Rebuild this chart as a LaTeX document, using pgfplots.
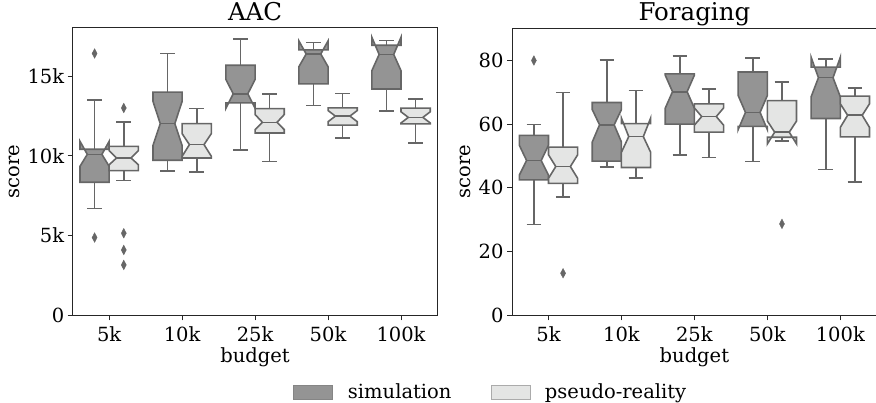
\documentclass[border=0pt]{standalone}
\usepackage{pgfplots}
\pgfplotsset{compat=1.18}
\usepgfplotslibrary{statistics}
\usepackage{fontspec}
\setmainfont{DejaVu Serif}
\definecolor{simfill}{HTML}{949494}
\definecolor{psfill}{HTML}{E4E5E4}
\definecolor{edge}{HTML}{666666}
\definecolor{axc}{HTML}{262626}
\newcommand{\tfont}{\fontsize{19.5bp}{23bp}\selectfont}
\newcommand{\ttl}{\fontsize{24.5bp}{28bp}\selectfont}
\pgfplotsset{
  boxplot/draw direction=y,
  boxplot/box extend=0.4,
  boxplot/whisker extend=0.2,
  boxplot/every whisker/.style={line width=1.6bp},
  boxplot/every median/.style={line width=1.6bp},
  boxplot/draw/median/.code={%
    \draw[/pgfplots/boxplot/every median/.try]
      (boxplot box cs:\pgfplotsboxplotvalue{median},0.25) --
      (boxplot box cs:\pgfplotsboxplotvalue{median},0.75);},
  notchbox/.style n args={2}{%
    boxplot/draw/box/.code={%
      \draw[/pgfplots/boxplot/every box/.try]
        (boxplot box cs:\pgfplotsboxplotvalue{lower quartile},0)
        -- (boxplot box cs:#1,0)
        -- (boxplot box cs:\pgfplotsboxplotvalue{median},0.25)
        -- (boxplot box cs:#2,0)
        -- (boxplot box cs:\pgfplotsboxplotvalue{upper quartile},0)
        -- (boxplot box cs:\pgfplotsboxplotvalue{upper quartile},1)
        -- (boxplot box cs:#2,1)
        -- (boxplot box cs:\pgfplotsboxplotvalue{median},0.75)
        -- (boxplot box cs:#1,1)
        -- (boxplot box cs:\pgfplotsboxplotvalue{lower quartile},1)
        -- cycle;}},
  bp/.style n args={8}{boxplot prepared={draw position=#1,
      lower whisker=#2, lower quartile=#3, median=#5,
      upper quartile=#7, upper whisker=#8}, notchbox={#4}{#6}},
  common/.style={forget plot, draw=edge, line width=1.6bp, line join=miter,
      mark=diamond*, mark size=4.8bp,
      mark options={fill=edge, draw=edge, xscale=0.7, line width=0.4bp}},
  sim/.style={common, boxplot/every box/.style={fill=simfill, line width=1.6bp}},
  ps/.style={common, boxplot/every box/.style={fill=psfill, line width=1.6bp}},
  panel/.style={
    scale only axis, width=364.8bp, height=287.3bp, anchor=south west,
    xmin=-0.5, xmax=4.5, ymin=0,
    xtick={0,1,2,3,4}, xticklabels={5k,10k,25k,50k,100k},
    axis line style={axc, line width=1bp},
    tick style={axc, line width=1bp}, major tick length=5bp,
    tick align=outside, tick pos=left, minor tick num=0,
    tick label style={font=\tfont, text=black},
    xticklabel style={yshift=-3bp},
    label style={font=\tfont},
    title style={font=\ttl, at={(axis description cs:0.5,1)}, anchor=base, yshift=2bp},
    xlabel={budget},
    xlabel style={at={(axis description cs:0.5,-0.165)}, anchor=base},
    ylabel={score},
  },
}
\begin{document}
\begin{tikzpicture}
\path[use as bounding box] (0,0) rectangle (876bp,403bp);
% ---------------- AAC (values in thousands) ----------------
\begin{axis}[panel, at={(72.7bp,87.7bp)}, ymax=18.03,
  ytick={0,5,10,15}, yticklabels={0,5k,10k,15k}, title={AAC},
  ylabel style={at={(axis description cs:-0.161,0.5)}, anchor=center}]
\addplot[sim, bp={-0.2}{6.70}{8.35}{9.35}{10.10}{10.92}{10.42}{13.52}] table[row sep=\\,y index=0]{y\\16.43\\4.88\\};
\addplot[ps,  bp={0.2}{8.45}{9.08}{9.45}{9.87}{10.33}{10.60}{12.13}] table[row sep=\\,y index=0]{y\\13.01\\5.15\\4.10\\3.16\\};
\addplot[sim, bp={0.8}{9.04}{9.73}{10.65}{12.03}{13.43}{14.01}{16.42}] coordinates {};
\addplot[ps,  bp={1.2}{8.98}{9.87}{9.98}{10.71}{11.40}{12.03}{12.99}] coordinates {};
\addplot[sim, bp={1.8}{10.37}{13.33}{12.99}{13.90}{14.80}{15.69}{17.34}] coordinates {};
\addplot[ps,  bp={2.2}{9.66}{11.44}{11.65}{12.11}{12.60}{12.97}{13.89}] coordinates {};
\addplot[sim, bp={2.8}{13.16}{14.52}{15.60}{16.40}{17.22}{16.66}{17.13}] coordinates {};
\addplot[ps,  bp={3.2}{11.12}{11.93}{12.15}{12.50}{12.85}{13.02}{13.92}] coordinates {};
\addplot[sim, bp={3.8}{12.81}{14.20}{15.35}{16.37}{17.45}{16.95}{17.25}] coordinates {};
\addplot[ps,  bp={4.2}{10.82}{12.01}{12.07}{12.42}{12.77}{13.00}{13.58}] coordinates {};
\end{axis}
% ---------------- Foraging ----------------
\begin{axis}[panel, at={(512bp,87.7bp)}, ymax=90.2,
  ytick={0,20,40,60,80}, yticklabels={0,20,40,60,80}, title={Foraging},
  ylabel style={at={(axis description cs:-0.129,0.5)}, anchor=center},
  legend style={at={(axis description cs:-0.058,-0.267)}, anchor=center,
    draw=none, fill=none, font=\tfont, legend columns=2,
    /tikz/every odd column/.append style={column sep=12.5bp},
    /tikz/every even column/.append style={column sep=37bp}}]
\addlegendimage{legend image code/.code={\draw[fill=simfill, draw=edge!80, line width=1bp] (0bp,-7bp) rectangle (39bp,7bp);}}
\addlegendentry{simulation}
\addlegendimage{legend image code/.code={\draw[fill=psfill, draw=edge!55, line width=1bp] (0bp,-7bp) rectangle (39bp,7bp);}}
\addlegendentry{pseudo-reality}
\addplot[sim, bp={-0.2}{28.5}{42.5}{44.0}{48.6}{53.4}{56.5}{59.9}] table[row sep=\\,y index=0]{y\\80.0\\};
\addplot[ps,  bp={0.2}{37.1}{41.4}{43.0}{46.7}{50.4}{52.8}{69.9}] table[row sep=\\,y index=0]{y\\13.2\\};
\addplot[sim, bp={0.8}{46.5}{48.4}{54.4}{59.8}{64.6}{66.8}{80.2}] coordinates {};
\addplot[ps,  bp={1.2}{43.1}{46.4}{51.2}{56.1}{61.9}{60.2}{70.6}] coordinates {};
\addplot[sim, bp={1.8}{50.4}{60.0}{65.0}{70.2}{75.4}{75.8}{81.5}] coordinates {};
\addplot[ps,  bp={2.2}{49.6}{57.5}{59.7}{62.4}{65.1}{66.4}{71.1}] coordinates {};
\addplot[sim, bp={2.8}{48.3}{59.3}{58.3}{63.7}{69.0}{76.4}{80.7}] coordinates {};
\addplot[ps,  bp={3.2}{54.8}{55.9}{53.8}{57.5}{61.0}{67.4}{73.2}] table[row sep=\\,y index=0]{y\\28.7\\};
\addplot[sim, bp={3.8}{45.8}{61.8}{68.6}{74.6}{81.0}{77.9}{80.5}] coordinates {};
\addplot[ps,  bp={4.2}{41.8}{56.0}{59.0}{62.8}{66.4}{68.8}{71.4}] coordinates {};
\end{axis}
\end{tikzpicture}
\end{document}
